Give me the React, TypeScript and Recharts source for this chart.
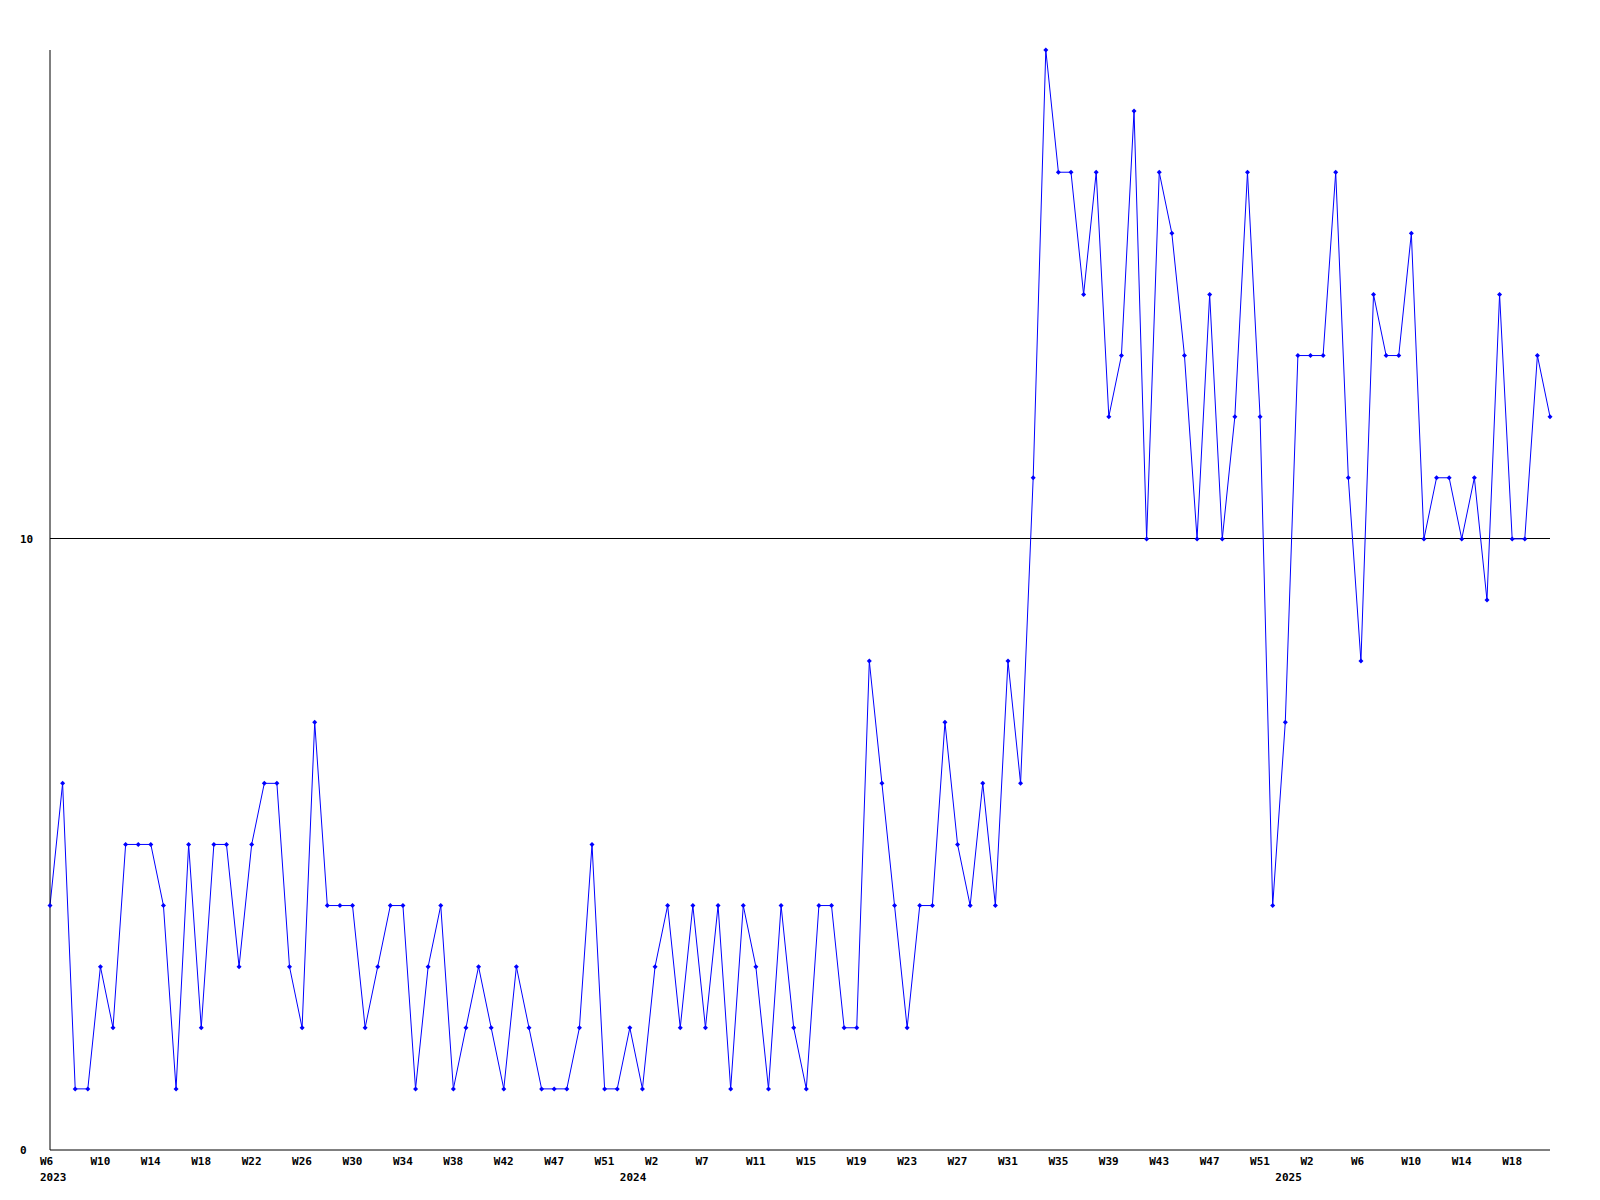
import { LineChart, Line, XAxis, YAxis, ReferenceLine } from 'recharts'

// one value per week, from 2023 W6 onwards
const VALUES = [
  4, 6, 1, 1, 3, 2, 5, 5, 5, 4, 1, 5, 2, 5, 5, 3, 5, 6, 6, 3, 2,
  7, 4, 4, 4, 2, 3, 4, 4, 1, 3, 4, 1, 2, 3, 2, 1, 3, 2, 1, 1, 1,
  2, 5, 1, 1, 2, 1, 3, 4, 2, 4, 2, 4, 1, 4, 3, 1, 4, 2, 1, 4, 4,
  2, 2, 8, 6, 4, 2, 4, 4, 7, 5, 4, 6, 4, 8, 6, 11, 18, 16, 16, 14,
  16, 12, 13, 17, 10, 16, 15, 13, 10, 14, 10, 12, 16, 12, 4, 7, 13, 13, 13, 16, 11,
  8, 14, 13, 13, 15, 10, 11, 11, 10, 11, 9, 14, 10, 10, 13, 12,
]

const TICK_POS = [
  0, 4, 8, 12, 16, 20, 24, 28, 32, 36, 40, 44, 48, 52, 56,
  60, 64, 68, 72, 76, 80, 84, 88, 92, 96, 100, 104, 108, 112, 116,
]
const TICK_LABELS = [
  'W6', 'W10', 'W14', 'W18', 'W22', 'W26', 'W30', 'W34', 'W38', 'W42', 'W47', 'W51', 'W2', 'W7', 'W11',
  'W15', 'W19', 'W23', 'W27', 'W31', 'W35', 'W39', 'W43', 'W47', 'W51', 'W2', 'W6', 'W10', 'W14', 'W18',
]

const YEAR_POS = [0, 46, 98]
const YEAR_LABELS = ['2023', '2024', '2025']

const Y_TICKS = [0, 10]

const FONT = '"DejaVu Sans Mono", monospace'

const data = VALUES.map((v, i) => ({ i, v }))

// labels start a little left of their tick, like the original
function WeekTick(props: any) {
  const { x, y, index } = props
  return (
    <text x={x - 10} y={y + 15} textAnchor="start" fontFamily={FONT} fontSize={11} fontWeight="bold" fill="#000">
      {TICK_LABELS[index]}
    </text>
  )
}

function YearTick(props: any) {
  const { x, y, index } = props
  return (
    <text x={x - 10} y={y + 1} textAnchor="start" fontFamily={FONT} fontSize={11} fontWeight="bold" fill="#000">
      {YEAR_LABELS[index]}
    </text>
  )
}

function ValueTick(props: any) {
  const { y, payload } = props
  return (
    <text x={20} y={y + 4} textAnchor="start" fontFamily={FONT} fontSize={11} fontWeight="bold" fill="#000">
      {payload.value}
    </text>
  )
}

function Diamond(props: any) {
  const { cx, cy, index } = props
  if (cx == null || cy == null) return null
  return (
    <polygon
      key={index}
      points={`${cx - 2.5},${cy} ${cx},${cy - 2.5} ${cx + 2.5},${cy} ${cx},${cy + 2.5}`}
      fill="#0000ff"
    />
  )
}

export default function App() {
  return (
    <div style={{ position: 'absolute', left: 0, top: 0, background: '#fff' }}>
      <LineChart width={1600} height={1200} data={data} margin={{ top: 50, right: 50, left: 0, bottom: 0 }}>
        <XAxis
          xAxisId="w"
          type="number"
          dataKey="i"
          domain={[0, 119]}
          ticks={TICK_POS}
          interval={0}
          tickSize={0}
          tickMargin={0}
          tickLine={false}
          height={30}
          stroke="#000"
          tick={<WeekTick />}
        />
        <XAxis
          xAxisId="yr"
          type="number"
          dataKey="i"
          domain={[0, 119]}
          ticks={YEAR_POS}
          interval={0}
          axisLine={false}
          tickLine={false}
          tickSize={0}
          tickMargin={0}
          height={20}
          tick={<YearTick />}
        />
        <YAxis
          type="number"
          domain={[0, 18]}
          ticks={Y_TICKS}
          interval={0}
          width={50}
          tickSize={0}
          tickLine={false}
          stroke="#000"
          tick={<ValueTick />}
        />
        <ReferenceLine xAxisId="w" y={10} stroke="#000" strokeWidth={1} shapeRendering="crispEdges" />
        <Line
          xAxisId="w"
          type="linear"
          dataKey="v"
          stroke="#0000ff"
          strokeWidth={1}
          dot={Diamond}
          activeDot={false}
          isAnimationActive={false}
        />
      </LineChart>
    </div>
  )
}
